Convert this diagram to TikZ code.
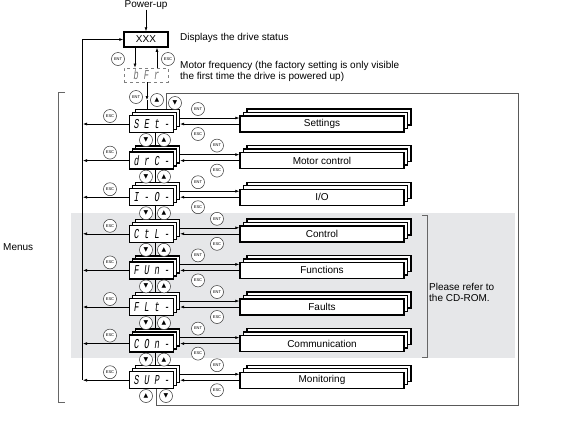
\documentclass[tikz,border=0pt]{standalone}
\usepackage{fontspec}
\usepackage{graphicx}
\setmainfont{Liberation Sans}
\newfontfamily\segfont[FakeSlant=0.22]{Liberation Mono}
\newfontfamily\symfont{DejaVu Sans}
\usetikzlibrary{arrows.meta,calc}
\definecolor{bgc}{RGB}{230,231,233}
\newcommand\upg{{\symfont\fontsize{6}{6}\selectfont ▲}}
\newcommand\dng{{\symfont\fontsize{6}{6}\selectfont ▼}}
\newcommand\segtxt[1]{\scalebox{1}[1.6]{#1}}
\begin{document}
\begin{tikzpicture}[x=1pt,y=-1pt,
  lbl/.style={font=\fontsize{10}{11.5}\selectfont, inner sep=0},
  keyc/.style={circle, draw=black!80, line width=0.5pt, minimum size=13pt, inner sep=0, fill=white, font=\fontsize{4}{4}\selectfont},
  arr/.style={-{Latex[length=4pt,width=3pt]}, line width=0.6pt},
  conn/.style={line width=0.6pt},
  menubox/.style={draw=black, line width=1.4pt, fill=white, minimum width=44pt, minimum height=17pt, inner sep=0, font=\segfont\fontsize{8.5}{10}\selectfont},
  funcbox/.style={draw=black, line width=1.4pt, fill=white, minimum width=164pt, minimum height=16pt, inner sep=0, font=\fontsize{10}{11}\selectfont},
  xbox/.style={draw=black, line width=1.5pt, fill=white, minimum width=44pt, minimum height=15pt, inner sep=0, font=\fontsize{10}{11}\selectfont},
  loopline/.style={draw=black!65, line width=0.6pt},
  bracket/.style={draw=black!60, line width=0.6pt},
]
\useasboundingbox (0,0) rectangle (587,440);
\fill[bgc] (71,213) rectangle (515,358);

% top part
\node[lbl] (pu) at (146,5) {Power-up};
\node[xbox] (xxx) at (146,39.5) {XXX};
\draw[arr] (pu.south) -- (xxx.north);
\node[lbl, anchor=west] (disp) at (180,38) {Displays the drive status};
\node[draw=black!50, dashed, line width=0.8pt, minimum width=44pt, minimum height=14pt, inner sep=0, text=black!55, font=\segfont\fontsize{8.5}{10}\selectfont] (bfr) at (146,75) {\segtxt{b F r}};
\node[lbl, anchor=west, align=left] (mf) at (180,71.5) {Motor frequency (the factory setting is only visible\\the first time the drive is powered up)};
\draw[arr] ([xshift=-11pt]xxx.south) -- ([xshift=-11pt]bfr.north);
\draw[arr] ([xshift=11pt]bfr.north) -- ([xshift=11pt]xxx.south);
\node[keyc] (ent0) at (118,59) {ENT};
\node[keyc] (esc0) at (168,59) {ESC};

\coordinate (lt) at (82,39.5);
\draw[arr] (lt) -- (xxx.west);

% rows
\foreach \i/\seg/\fn in {0/{S E t -}/{Settings},1/{d r C -}/{Motor control},2/{I - O -}/{I/O},3/{C t L -}/{Control},4/{F U n -}/{Functions},5/{F L t -}/{Faults},6/{C O n -}/{Communication},7/{S U P -}/{Monitoring}}{
  \pgfmathsetmacro\y{124+36.6*\i}
  \pgfmathsetmacro\xe{mod(\i,2)==0 ? 198 : 217}
  \node[menubox] (m\i b2) at (157.5,\y-6) {};
  \node[menubox] (m\i b1) at (154.5,\y-3) {};
  \node[menubox] (m\i) at (151.5,\y) {\segtxt{\seg}};
  \node[funcbox] (f\i b2) at (329,\y-7) {};
  \node[funcbox] (f\i b1) at (325.5,\y-3.5) {};
  \node[funcbox] (f\i) at (322,\y) {\fn};
  \draw[arr] (m\i b2.east) -- (m\i b2.east -| f\i.west);
  \draw[arr] (f\i.west) -- (f\i.west -| m\i b2.east);
  \draw[arr, shorten >=1pt] (m\i.west) -- (m\i.west -| lt);
  \node[keyc] (le\i) at (110,\y-8) {ESC};
  \node[keyc] (re\i) at (\xe,\y-15) {ENT};
  \node[keyc] (rs\i) at (\xe,\y+10) {ESC};
}
\draw[conn] (lt) -- (lt |- m7.west);

% between rows
\foreach \i in {0,...,6}{
  \pgfmathtruncatemacro\j{\i+1}
  \pgfmathsetmacro\y{124+36.6*\i+16}
  \draw[conn] ($(m\i.south)+(3.5,0)$) -- ($(m\j b2.north)+(-2.5,0)$);
  \node[keyc] (dn\i) at (146,\y) {\dng};
  \node[keyc] (up\i) at (164,\y) {\upg};
}

% top entry into SEt
\coordinate (c1) at (147,100);
\draw[arr] (bfr.south -| c1) -- (c1);
\draw[conn] (c1) -- (c1 |- m0b2.north);
\node[keyc] (enttop) at (136,97) {ENT};
\node[keyc] (uptop) at (157,100) {\upg};
\node[keyc] (dntop) at (175,103) {\dng};

% wrap-around loop
\coordinate (tl) at (166,93);
\coordinate (tr) at (518,93);
\coordinate (br) at (518,405);
\coordinate (bl) at (156,405);
\draw[loopline] (tl |- m0b2.north) -- (tl) -- (tr) -- (br) -- (bl) -- (bl |- m7.south);
\node[keyc] (upbot) at (146,396) {\upg};
\node[keyc] (dnbot) at (166,396) {\dng};

% brackets and labels
\draw[bracket] (65,92) -- (58,92) -- (58,402) -- (65,402);
\node[lbl, anchor=west] (menus) at (3,247) {Menus};
\draw[bracket] (422,215) -- (427,215) -- (427,357) -- (422,357);
\node[lbl, anchor=west, align=left] (cd) at (429,292.5) {Please refer to\\the CD-ROM.};
\end{tikzpicture}
\end{document}
